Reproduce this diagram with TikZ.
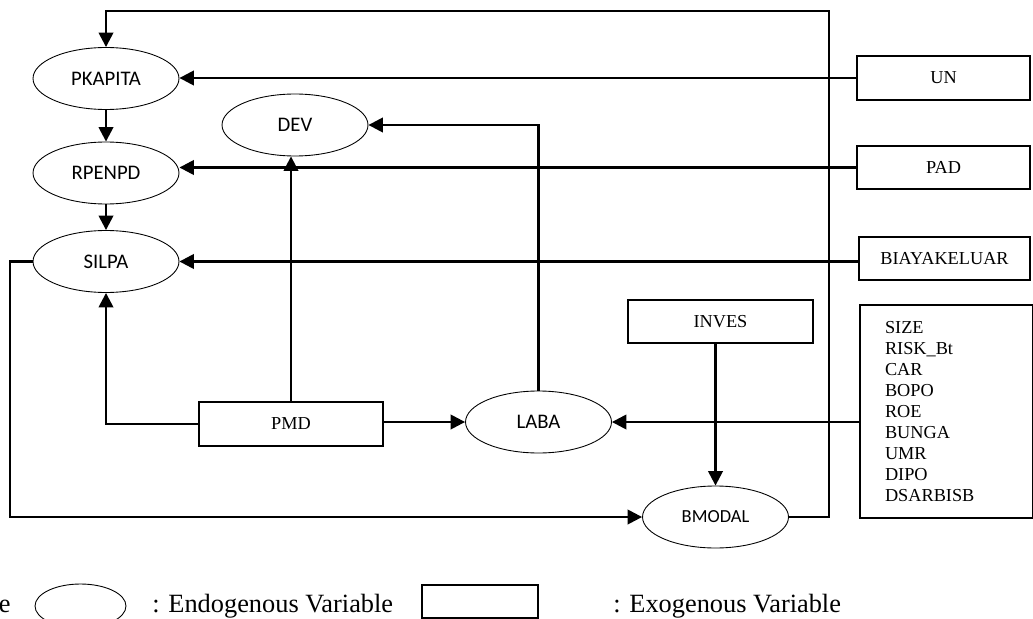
\documentclass[tikz,border=0pt]{standalone}
\usepackage{fontspec}
\setmainfont{Liberation Serif}
\newfontfamily\calibri{Carlito}
\usetikzlibrary{arrows.meta, positioning, shapes.geometric}

\begin{document}
\begin{tikzpicture}[
  x=0.02cm, y=-0.02cm,
  endo/.style={
    draw,
    ellipse,
    line width=0.5pt,
    minimum width=2.92cm,
    minimum height=1.24cm,
    inner sep=0pt,
    font=\calibri\fontsize{11.8}{14}\selectfont
  },
  exo/.style={
    draw,
    line width=0.9pt,
    minimum width=3.46cm,
    minimum height=0.87cm,
    inner sep=0pt,
    font=\fontsize{10.4}{12}\selectfont
  },
  arr/.style={-{Triangle[length=0.29cm, width=0.29cm]}, line width=1.4pt},
  legend/.style={font=\fontsize{15}{18}\selectfont, inner sep=0pt}
]
\useasboundingbox (0,0) rectangle (1033,618);

% Endogenous - ellipses
\node[endo] (pkapita) at (106,78.5) {PKAPITA};
\node[endo] (rpenpd) at (106,173) {RPENPD};
\node[endo] (silpa) at (106,261.5) {SILPA};
\node[endo] (dev) at (295,125) {DEV};
\node[endo] (laba) at (538.5,422) {LABA};
\node[endo, font=\calibri\fontsize{10.5}{12}\selectfont] (bmodal) at (715.5,517) {BMODAL};

% Exogenous - boxes
\node[exo] (un) at (943.5,78) {UN};
\node[exo] (pad) at (943.5,167.5) {PAD};
\node[exo, minimum width=3.42cm] (biaya) at (944.5,258.5) {BIAYAKELUAR};
\node[exo, minimum width=3.7cm] (inves) at (720.5,321.5) {INVES};
\node[exo, minimum width=3.68cm] (pmd) at (291,424) {PMD};
\node[exo, align=left, text width=2.46cm, inner xsep=0.44cm, minimum height=4.26cm] (faktor) at (946.5,411.5)
  {SIZE\\RISK\_Bt\\CAR\\BOPO\\ROE\\BUNGA\\UMR\\DIPO\\DSARBISB};

% Rails for the long loops
\coordinate (toprail) at (829,11);
\coordinate (leftrail) at (10,517);

% Arrows
\draw[arr] (pkapita) -- (rpenpd);
\draw[arr] (rpenpd) -- (silpa);
\draw[arr] (un.west) -- (un.west -| pkapita.east);
\draw[arr] (pad.west) -- (pad.west -| rpenpd.east);
\draw[arr] (biaya.west |- silpa.east) -- (silpa.east);
\draw[arr] (pmd.west) -| (silpa.south);
\draw[arr] (pmd.north) -- (pmd.north |- dev.south);
\draw[arr] (pmd.east |- laba.west) -- (laba.west);
\draw[arr] (laba.north) |- (dev.east);
\draw[arr] (faktor.west |- laba.east) -- (laba.east);
\draw[arr] (inves.south -| bmodal.north) -- (bmodal.north);
\draw[arr] (silpa.west) -- (silpa.west -| leftrail) |- (bmodal.west);
\draw[arr] (bmodal.east) -| (toprail) -| (pkapita.north);

% Legend
\node[legend, anchor=base east] (note) at (11,612) {e};
\node[draw, ellipse, line width=0.5pt, minimum width=1.82cm, minimum height=0.88cm, inner sep=0pt] (endokey) at (80.5,606) {};
\node[legend, anchor=base west] (endotext) at (152,612) {: Endogenous Variable};
\node[draw, line width=0.9pt, minimum width=2.32cm, minimum height=0.66cm, inner sep=0pt] (exokey) at (480,601.5) {};
\node[legend, anchor=base west] (exotext) at (613,612) {: Exogenous Variable};

\end{tikzpicture}
\end{document}
